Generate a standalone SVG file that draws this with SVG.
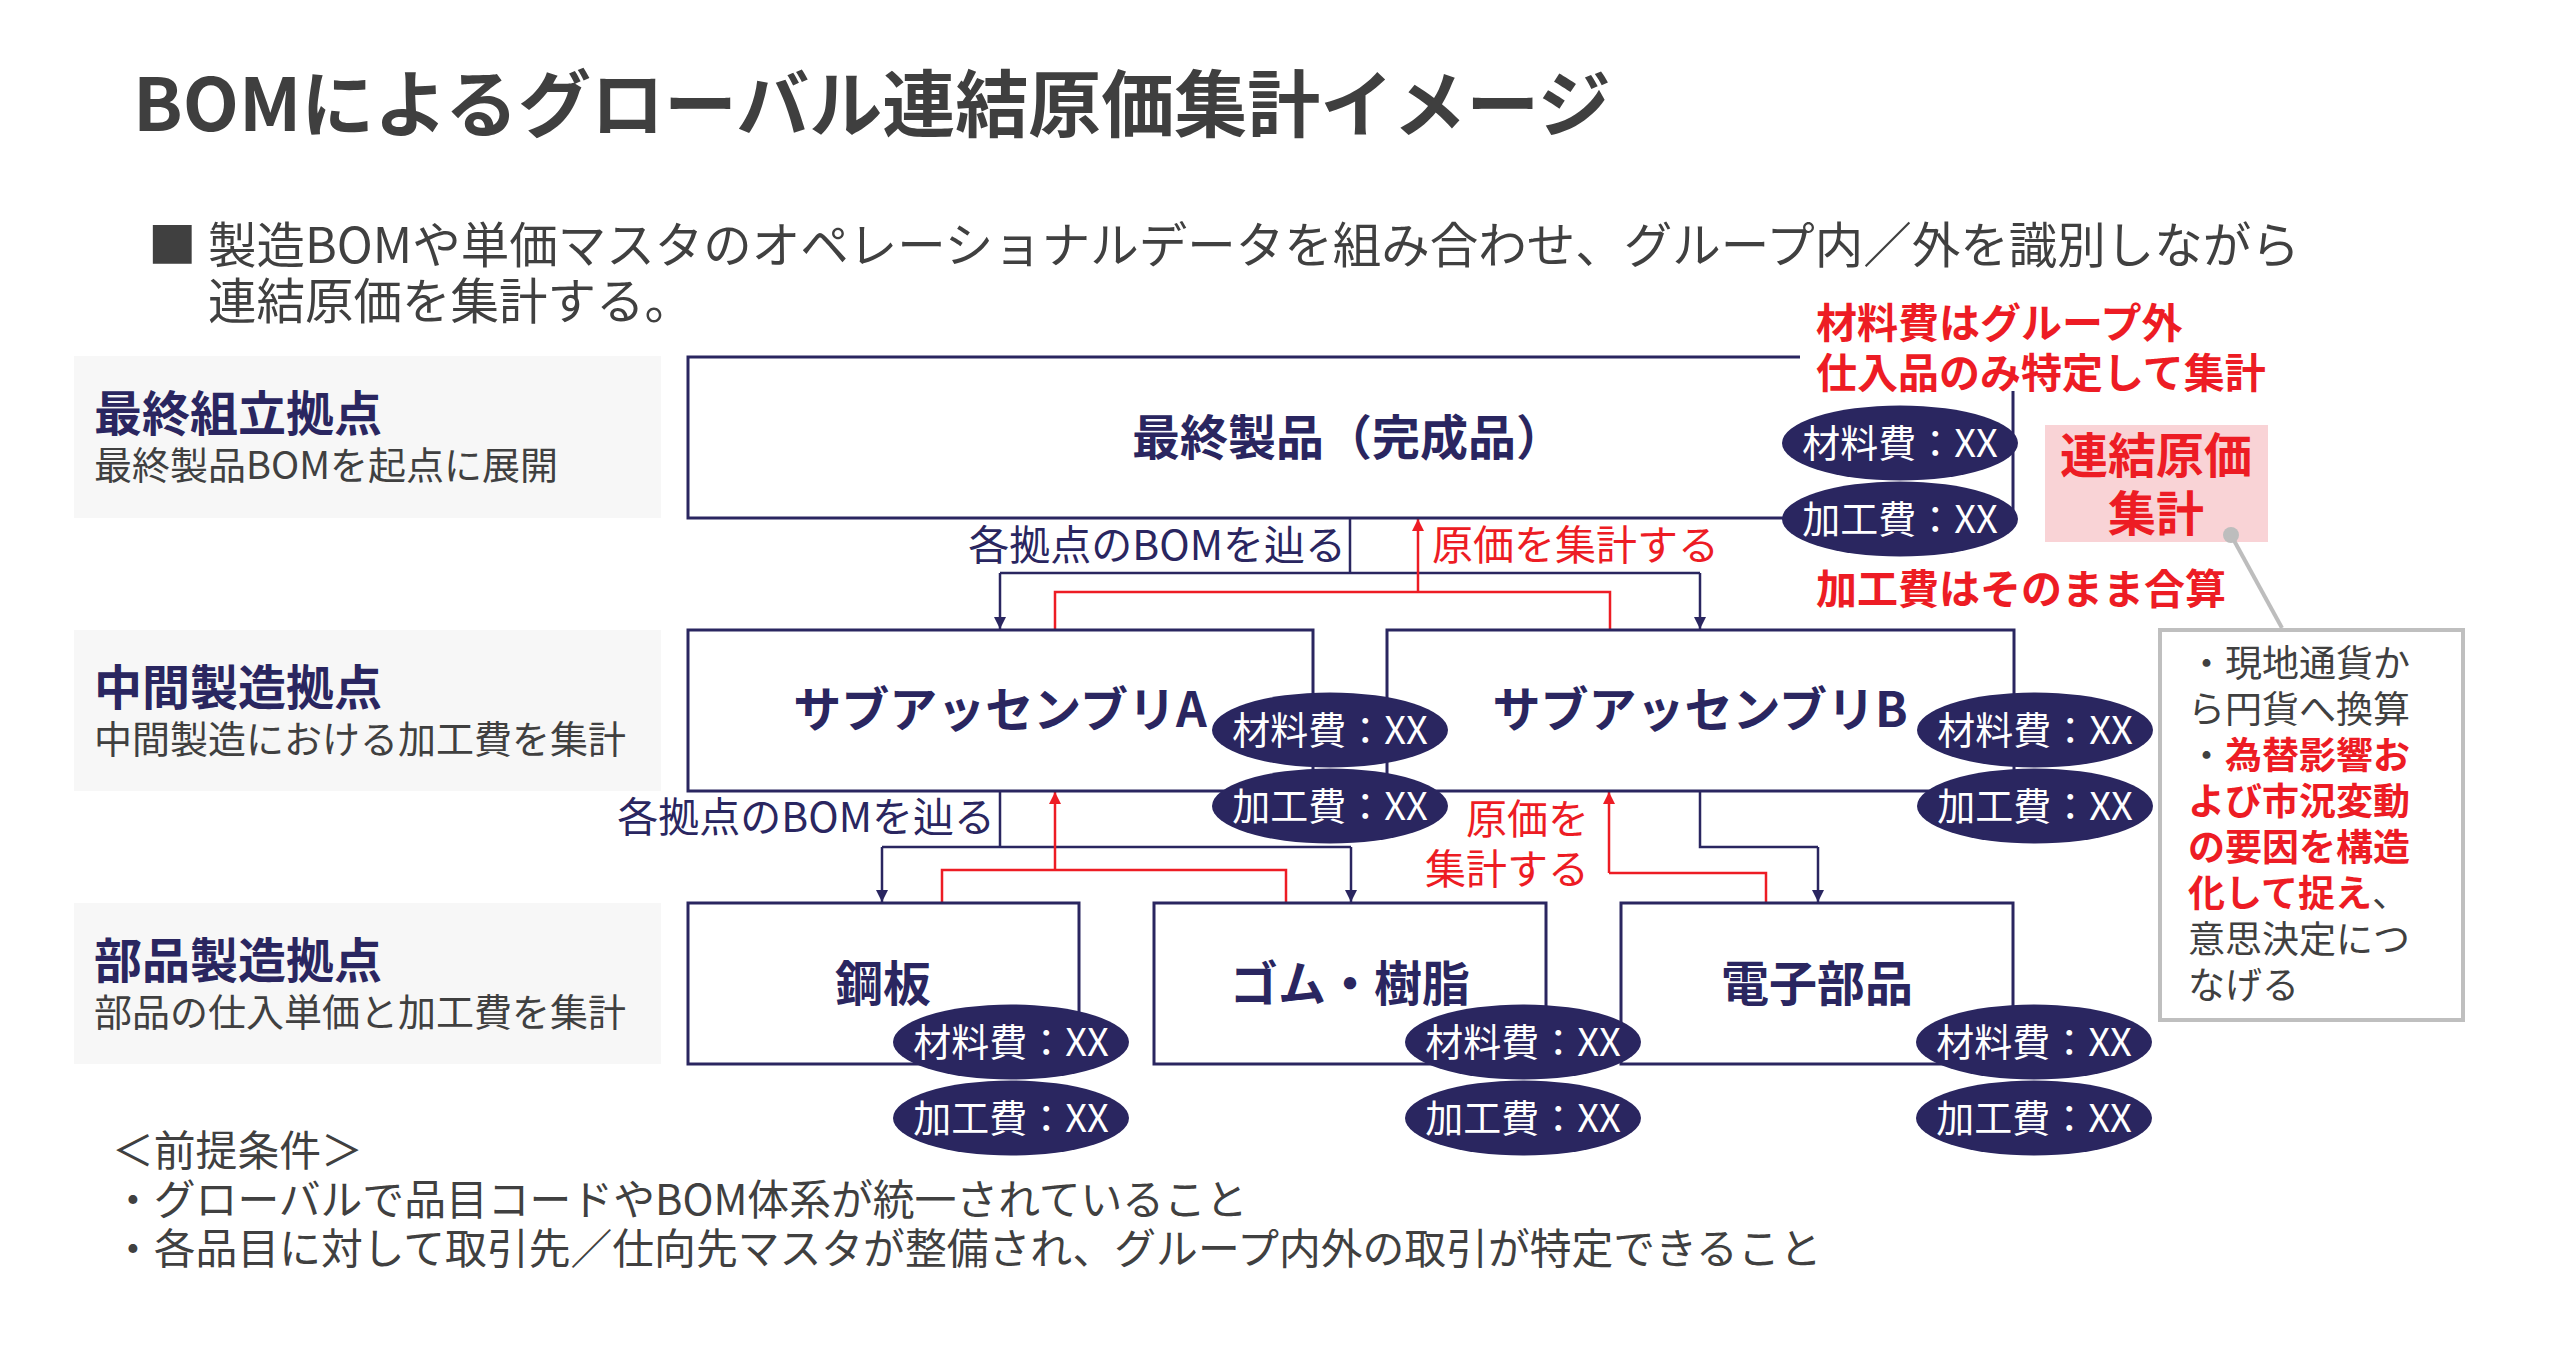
<svg xmlns="http://www.w3.org/2000/svg" width="2560" height="1368" viewBox="0 0 2560 1368">
<defs>
<style>
text{font-family:"Noto Sans CJK JP","Noto Sans CJK SC",sans-serif;}
.title{font-size:73px;font-weight:700;fill:#3f3f3f;}
.lead{font-size:48.5px;fill:#404040;}
.lbox{fill:#f7f7f7;}
.lt{font-size:48px;font-weight:700;fill:#2a2660;}
.ls{font-size:38px;fill:#404040;}
.box{fill:#fff;stroke:#2a2660;stroke-width:3;}
.nt{font-size:48px;font-weight:700;fill:#2a2660;text-anchor:middle;}
.el{fill:#2a2660;}
.et{font-size:38px;fill:#fff;text-anchor:middle;}
.nav{fill:none;stroke:#2a2660;stroke-width:2.5;}
.red{fill:none;stroke:#ed1c24;stroke-width:2.5;}
.cl{font-size:41px;fill:#2a2660;}
.cr{font-size:41px;fill:#ed1c24;}
.rb{font-size:41px;font-weight:700;fill:#ed1c24;}
.note{font-size:37px;fill:#404040;}
.nr{fill:#ed1c24;font-weight:700;}
.foot{font-size:41.8px;fill:#404040;}
</style>
<marker id="an" viewBox="0 0 12 12" refX="12" refY="6" markerWidth="12" markerHeight="12" markerUnits="userSpaceOnUse" orient="auto"><path d="M0,0 L12,6 L0,12 Z" fill="#2a2660"/></marker>
<marker id="ar" viewBox="0 0 12 12" refX="12" refY="6" markerWidth="12" markerHeight="12" markerUnits="userSpaceOnUse" orient="auto"><path d="M0,0 L12,6 L0,12 Z" fill="#ed1c24"/></marker>
</defs>
<rect width="2560" height="1368" fill="#fff"/>

<g id="header">
<text class="title" x="133" y="131">BOMによるグローバル連結原価集計イメージ</text>
<text class="lead" x="148" y="263" font-size="34">■</text>
<text class="lead" x="208" y="263">製造BOMや単価マスタのオペレーショナルデータを組み合わせ、グループ内／外を識別しながら</text>
<text class="lead" x="208" y="319">連結原価を集計する。</text>
</g>

<g id="label-final">
<rect class="lbox" x="74" y="356" width="587" height="162"/>
<text class="lt" x="94" y="431">最終組立拠点</text>
<text class="ls" x="94" y="479">最終製品BOMを起点に展開</text>
</g>
<g id="label-mid">
<rect class="lbox" x="74" y="630" width="587" height="161"/>
<text class="lt" x="94" y="705">中間製造拠点</text>
<text class="ls" x="94" y="753">中間製造における加工費を集計</text>
</g>
<g id="label-part">
<rect class="lbox" x="74" y="903" width="587" height="161"/>
<text class="lt" x="94" y="978">部品製造拠点</text>
<text class="ls" x="94" y="1026">部品の仕入単価と加工費を集計</text>
</g>

<g id="connectors">
<path class="nav" d="M1350,518 V573 M1000,573 H1700"/>
<path class="nav" d="M1000,573 V629" marker-end="url(#an)"/>
<path class="nav" d="M1700,573 V629" marker-end="url(#an)"/>
<path class="red" d="M1055,629 V592 H1610 V629"/>
<path class="red" d="M1418,592 V519" marker-end="url(#ar)"/>
<path class="nav" d="M1000,791 V847 M882,847 H1351"/>
<path class="nav" d="M882,847 V902" marker-end="url(#an)"/>
<path class="nav" d="M1351,847 V902" marker-end="url(#an)"/>
<path class="red" d="M942,903 V870 H1286 V903"/>
<path class="red" d="M1055,870 V792" marker-end="url(#ar)"/>
<path class="nav" d="M1700,791 V847 H1818"/>
<path class="nav" d="M1818,847 V902" marker-end="url(#an)"/>
<path class="red" d="M1766,903 V873 H1609"/>
<path class="red" d="M1609,873 V792" marker-end="url(#ar)"/>
<text class="cl" x="1346" y="560" text-anchor="end">各拠点のBOMを辿る</text>
<text class="cr" x="1432" y="560">原価を集計する</text>
<text class="cl" x="995" y="832" text-anchor="end">各拠点のBOMを辿る</text>
<text class="cr" x="1589" y="834" text-anchor="end">原価を</text>
<text class="cr" x="1589" y="884" text-anchor="end">集計する</text>
</g>

<g id="node-final">
<rect class="box" x="688" y="357" width="1325" height="161"/>
<text class="nt" x="1348" y="455" font-size="50">最終製品（完成品）</text>
</g>
<g id="node-subA">
<rect class="box" x="688" y="630" width="625" height="161"/>
<text class="nt" x="1000" y="727">サブアッセンブリA</text>
</g>
<g id="node-subB">
<rect class="box" x="1387" y="630" width="627" height="161"/>
<text class="nt" x="1700" y="727">サブアッセンブリB</text>
</g>
<g id="node-steel">
<rect class="box" x="688" y="903" width="391" height="161"/>
<text class="nt" x="883" y="1001">鋼板</text>
</g>
<g id="node-rubber">
<rect class="box" x="1154" y="903" width="392" height="161"/>
<text class="nt" x="1350" y="1001">ゴム・樹脂</text>
</g>
<g id="node-elec">
<rect class="box" x="1621" y="903" width="392" height="161"/>
<text class="nt" x="1817" y="1001">電子部品</text>
</g>

<g id="costs-final">
<ellipse class="el" cx="1900" cy="443" rx="118" ry="37.5"/>
<text class="et" x="1900" y="457">材料費：XX</text>
<ellipse class="el" cx="1900" cy="519" rx="118" ry="37.5"/>
<text class="et" x="1900" y="533">加工費：XX</text>
</g>
<g id="costs-subA">
<ellipse class="el" cx="1330" cy="730" rx="118" ry="37.5"/>
<text class="et" x="1330" y="744">材料費：XX</text>
<ellipse class="el" cx="1330" cy="806" rx="118" ry="37.5"/>
<text class="et" x="1330" y="820">加工費：XX</text>
</g>
<g id="costs-subB">
<ellipse class="el" cx="2035" cy="730" rx="118" ry="37.5"/>
<text class="et" x="2035" y="744">材料費：XX</text>
<ellipse class="el" cx="2035" cy="806" rx="118" ry="37.5"/>
<text class="et" x="2035" y="820">加工費：XX</text>
</g>
<g id="costs-steel">
<ellipse class="el" cx="1011" cy="1042" rx="118" ry="37.5"/>
<text class="et" x="1011" y="1056">材料費：XX</text>
<ellipse class="el" cx="1011" cy="1118" rx="118" ry="37.5"/>
<text class="et" x="1011" y="1132">加工費：XX</text>
</g>
<g id="costs-rubber">
<ellipse class="el" cx="1523" cy="1042" rx="118" ry="37.5"/>
<text class="et" x="1523" y="1056">材料費：XX</text>
<ellipse class="el" cx="1523" cy="1118" rx="118" ry="37.5"/>
<text class="et" x="1523" y="1132">加工費：XX</text>
</g>
<g id="costs-elec">
<ellipse class="el" cx="2034" cy="1042" rx="118" ry="37.5"/>
<text class="et" x="2034" y="1056">材料費：XX</text>
<ellipse class="el" cx="2034" cy="1118" rx="118" ry="37.5"/>
<text class="et" x="2034" y="1132">加工費：XX</text>
</g>

<g id="annotation-material">
<rect x="1800" y="298" width="480" height="93" fill="#fff"/>
<text class="rb" x="1816" y="338">材料費はグループ外</text>
<text class="rb" x="1816" y="388">仕入品のみ特定して集計</text>
</g>
<g id="annotation-process">
<text class="rb" x="1816" y="604">加工費はそのまま合算</text>
</g>
<g id="consolidated">
<rect x="2045" y="425" width="223" height="117" fill="#f9d3d6"/>
<text x="2156" y="473" font-size="48" font-weight="700" fill="#ed1c24" text-anchor="middle">連結原価</text>
<text x="2156" y="531" font-size="48" font-weight="700" fill="#ed1c24" text-anchor="middle">集計</text>
</g>
<g id="callout">
<line x1="2231" y1="535" x2="2282" y2="628" stroke="#bdbdbd" stroke-width="4"/>
<circle cx="2231" cy="535" r="8" fill="#bdbdbd"/>
<rect x="2160" y="630" width="303" height="390" fill="#fff" stroke="#bfbfbf" stroke-width="4"/>
<text class="note" x="2188" y="677">・現地通貨か</text>
<text class="note" x="2188" y="723">ら円貨へ換算</text>
<text class="note" x="2188" y="769">・<tspan class="nr">為替影響お</tspan></text>
<text class="note nr" x="2188" y="815">よび市況変動</text>
<text class="note nr" x="2188" y="861">の要因を構造</text>
<text class="note" x="2188" y="907"><tspan class="nr">化して捉え</tspan>、</text>
<text class="note" x="2188" y="953">意思決定につ</text>
<text class="note" x="2188" y="999">なげる</text>
</g>

<g id="footer">
<text class="foot" x="112" y="1166">＜前提条件＞</text>
<text class="foot" x="112" y="1215">・グローバルで品目コードやBOM体系が統一されていること</text>
<text class="foot" x="112" y="1264">・各品目に対して取引先／仕向先マスタが整備され、グループ内外の取引が特定できること</text>
</g>
</svg>
